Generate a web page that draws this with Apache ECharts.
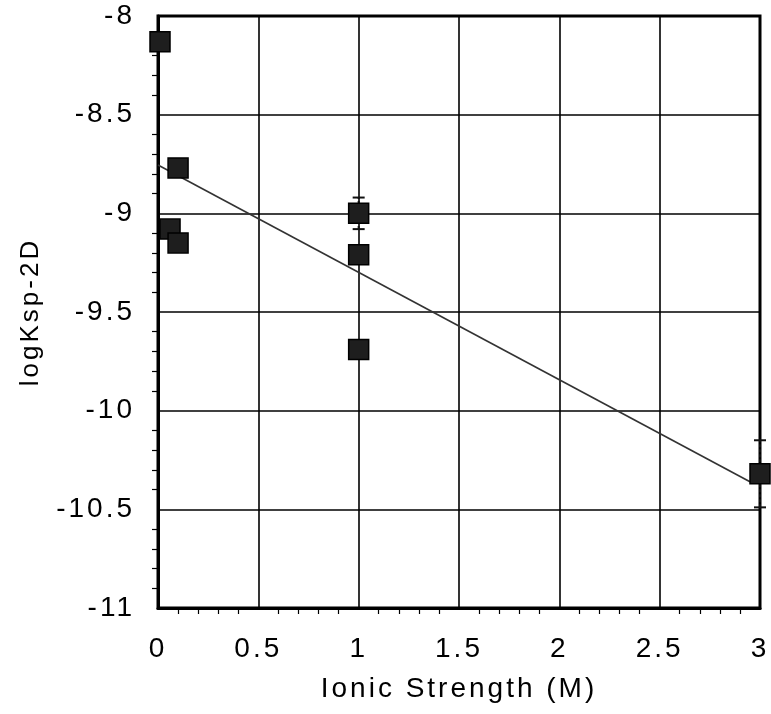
<!DOCTYPE html>
<html>
<head>
<meta charset="utf-8">
<script src="https://cdn.jsdelivr.net/npm/echarts@6/dist/echarts.min.js"></script>
<style>html,body{margin:0;padding:0;background:#fff;}#c{width:771px;height:714px;}</style>
</head>
<body>
<div id="c"></div>
<script>
var ionicStrength = [0.01, 0.1, 0.06, 0.1, 1.0, 1.0, 1.0, 3.0];
var logKsp = [-8.13, -8.77, -9.08, -9.15, -9.0, -9.21, -9.69, -10.32];
var errBar = [0, 0, 0, 0, 0.08, 0.03, 0.04, 0.17];
var fitX = [0, 2.95];
var fitY = [-8.755, -10.36];
var xTicks = [0, 0.5, 1, 1.5, 2, 2.5, 3];
var yTicks = [-11, -10.5, -10, -9.5, -9, -8.5, -8];

// wide tracking of the original typeface
(function () {
  var proto = CanvasRenderingContext2D.prototype;
  var orig = proto.fillText;
  proto.fillText = function () {
    try { this.letterSpacing = '3px'; } catch (e) {}
    return orig.apply(this, arguments);
  };
})();

var pts = ionicStrength.map(function (x, i) { return [x, logKsp[i]]; });
var errData = ionicStrength.map(function (x, i) { return [x, logKsp[i] - errBar[i], logKsp[i] + errBar[i]]; })
  .filter(function (d, i) { return errBar[i] > 0; });
var fitData = fitX.map(function (x, i) { return [x, fitY[i]]; });

var FONT = 'Liberation Sans';
var chart = echarts.init(document.getElementById('c'));
chart.setOption({
  animation: false,
  backgroundColor: '#fff',
  grid: { left: 158, right: 11, top: 16, bottom: 106, show: true, borderColor: '#000', borderWidth: 3, backgroundColor: 'transparent' },
  xAxis: {
    type: 'value', min: 0, max: 3, interval: 0.5,
    name: 'Ionic Strength (M)', nameLocation: 'middle', nameGap: 67,
    nameTextStyle: { fontFamily: FONT, fontSize: 28, color: '#000' },
    axisLine: { show: true, lineStyle: { color: '#000', width: 3 } },
    axisTick: { show: false },
    minorTick: { show: true, splitNumber: 5, length: 6, lineStyle: { color: '#000', width: 1.2 } },
    axisLabel: { fontFamily: FONT, fontSize: 28, color: '#000', margin: 27, formatter: function (v) { return String(v); } },
    splitLine: { show: true, lineStyle: { color: '#000', width: 1.6 } }
  },
  yAxis: {
    type: 'value', min: -11, max: -8, interval: 0.5,
    name: 'logKsp-2D', nameLocation: 'middle', nameGap: 114, nameRotate: 90,
    nameTextStyle: { fontFamily: FONT, fontSize: 26, color: '#000' },
    axisLine: { show: true, lineStyle: { color: '#000', width: 3 } },
    axisTick: { show: false },
    minorTick: { show: true, splitNumber: 5, length: 6, lineStyle: { color: '#000', width: 1.2 } },
    axisLabel: { fontFamily: FONT, fontSize: 28, color: '#000', margin: 23, padding: [8, 0, 0, 0], formatter: function (v) { return String(v); } },
    splitLine: { show: true, lineStyle: { color: '#000', width: 1.6 } }
  },
  series: [
    {
      type: 'line', data: fitData, symbol: 'none', z: 2,
      lineStyle: { color: '#333', width: 1.6 }
    },
    {
      type: 'custom', z: 3,
      renderItem: function (params, api) {
        var x = api.value(0);
        var lo = api.coord([x, api.value(1)]);
        var hi = api.coord([x, api.value(2)]);
        var w = 6;
        return {
          type: 'group',
          children: [
            { type: 'line', shape: { x1: lo[0], y1: lo[1], x2: hi[0], y2: hi[1] }, style: { stroke: '#111', lineWidth: 2, lineDash: [3, 2] } },
            { type: 'line', shape: { x1: lo[0] - w, y1: lo[1], x2: lo[0] + w, y2: lo[1] }, style: { stroke: '#111', lineWidth: 2 } },
            { type: 'line', shape: { x1: hi[0] - w, y1: hi[1], x2: hi[0] + w, y2: hi[1] }, style: { stroke: '#111', lineWidth: 2 } }
          ]
        };
      },
      data: errData
    },
    {
      type: 'scatter', data: pts, symbol: 'rect', symbolSize: 20, z: 4,
      itemStyle: { color: '#1e1e1e', borderColor: '#000', borderWidth: 1.5, opacity: 1 }
    }
  ]
});
</script>
</body>
</html>
